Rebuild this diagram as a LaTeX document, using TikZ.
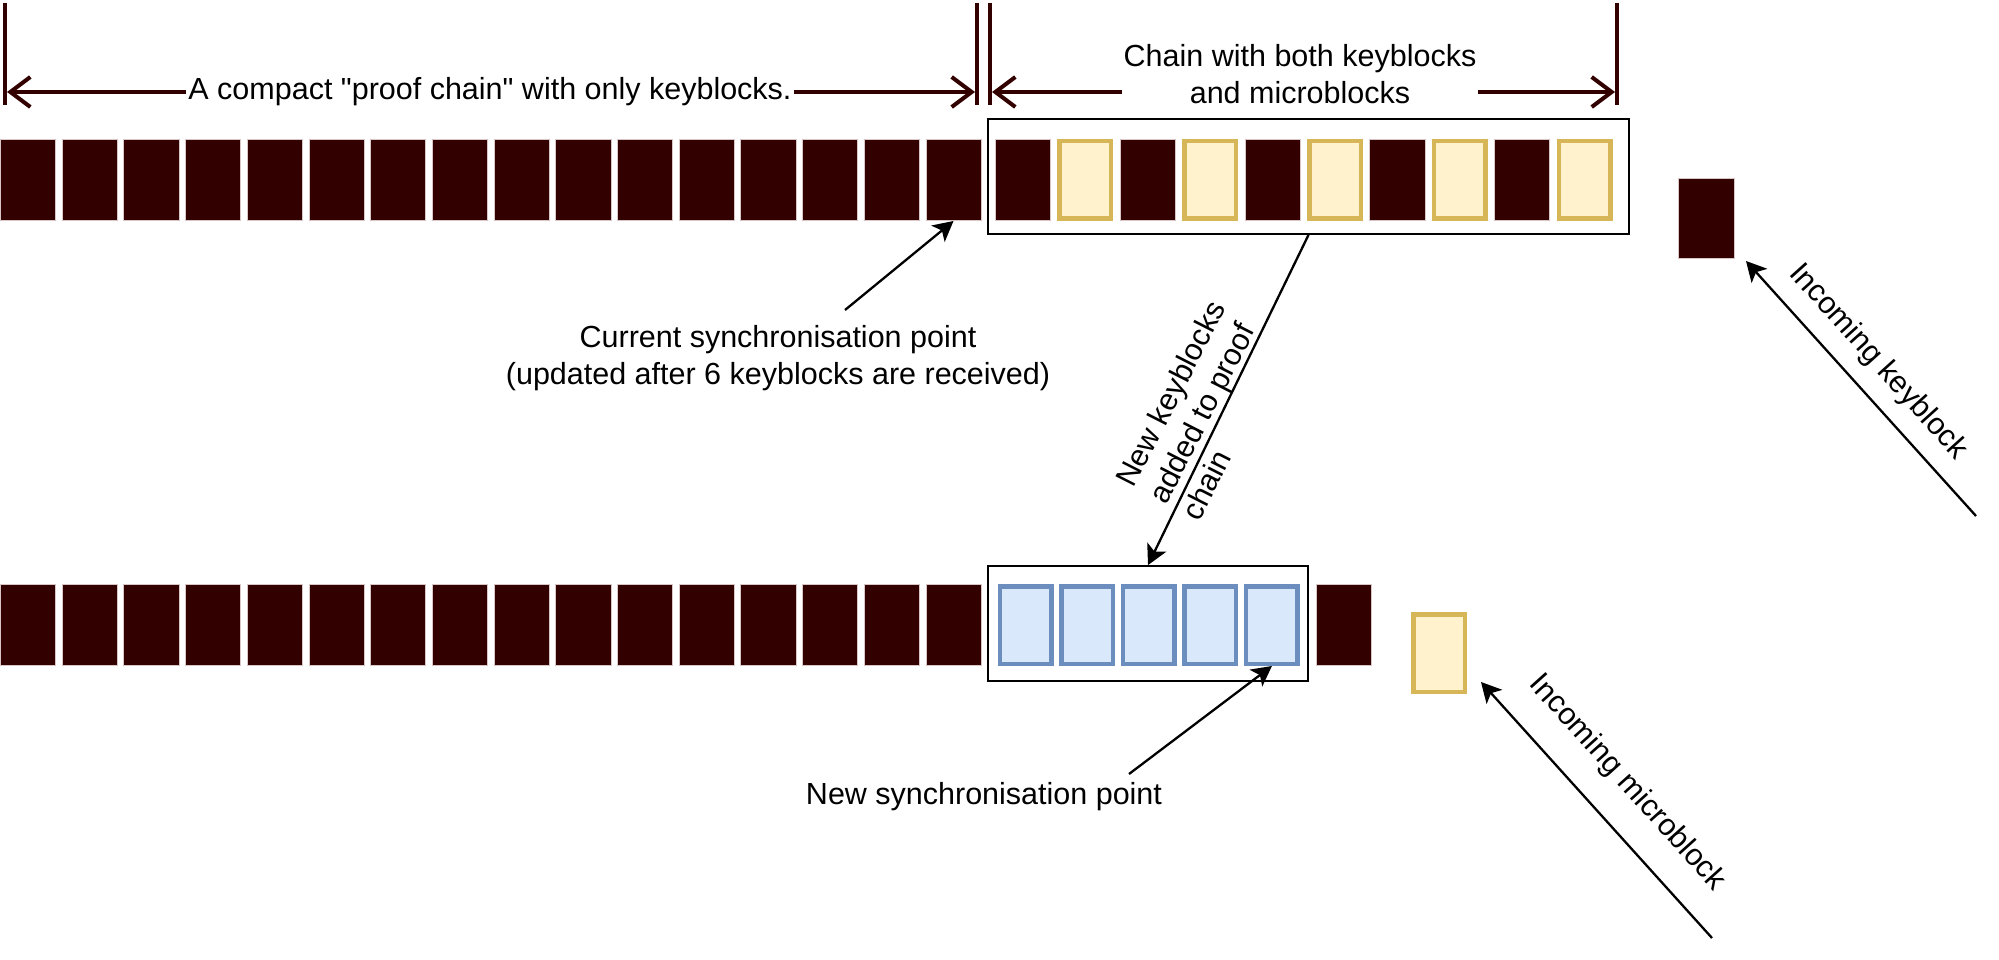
\documentclass[tikz,border=0pt]{standalone}
\usepackage{fontspec}
\setmainfont{Liberation Sans}[Ligatures=TeXOff]
\usetikzlibrary{arrows.meta,calc}
\definecolor{kbfill}{HTML}{330000}
\definecolor{kbedge}{HTML}{D8C6C6}
\definecolor{mbfill}{HTML}{FFF2CC}
\definecolor{mbdraw}{HTML}{D6B656}
\definecolor{nbfill}{HTML}{DAE8FC}
\definecolor{nbdraw}{HTML}{6C8EBF}
\begin{document}
\begin{tikzpicture}[x=1pt,y=-1pt,
  kb/.style={rectangle, fill=kbfill, draw=kbedge, line width=0.8pt, minimum width=55.2pt, minimum height=81.2pt, inner sep=0pt},
  mb/.style={rectangle, fill=mbfill, draw=mbdraw, line width=4.5pt, minimum width=51.5pt, minimum height=77.5pt, inner sep=0pt},
  nb/.style={rectangle, fill=nbfill, draw=nbdraw, line width=4.5pt, minimum width=51.5pt, minimum height=77.5pt, inner sep=0pt},
  groupbox/.style={rectangle, fill=white, draw=black, line width=2.3pt, inner sep=0pt},
  lbl/.style={font=\fontsize{30.5}{36.6}\selectfont, inner sep=2pt, text=black},
  dimtick/.style={draw=kbfill, line width=4pt},
  dimarrow/.style={draw=kbfill, line width=4pt, {Straight Barb[length=20pt,width=30pt]}-{Straight Barb[length=20pt,width=30pt]}},
  ann/.style={draw=black, line width=2.3pt, -{Stealth[length=20pt,width=21pt,inset=5pt]}}
]
\useasboundingbox (0,0) rectangle (1999,960);
\fill[white] (0,0) rectangle (1999,960);

% ---- top row: proof chain keyblocks
\foreach \i in {0,...,15} {
  \node[kb] (t\i) at ({28+\i*61.7},180) {};
}
% ---- top box with keyblocks and microblocks
\node[groupbox, minimum width=640.5pt, minimum height=114.5pt] (tbox) at (1308.5,176.5) {};
\foreach \i in {0,2,4,6,8} {
  \node[kb] (u\i) at ({1023+\i*62.4},180) {};
}
\foreach \i in {1,3,5,7,9} {
  \node[mb] (u\i) at ({1023+\i*62.4},180) {};
}
% incoming keyblock
\node[kb, minimum width=56.2pt, minimum height=80.2pt] (inkb) at (1706.5,218.5) {};

% ---- bottom row
\foreach \i in {0,...,15} {
  \node[kb] (b\i) at ({28+\i*61.7},625) {};
}
\node[groupbox, minimum width=319.5pt, minimum height=114.5pt] (bbox) at (1148,623.5) {};
\foreach \i in {0,...,4} {
  \node[nb] (n\i) at ({1025.5+\i*61.6},625) {};
}
\node[kb] (bend) at (1344,625) {};
\node[mb] (inmb) at (1439,653) {};

% ---- dimension lines
\coordinate (tkA1) at (5,3);    \coordinate (tkA2) at (5,105);
\coordinate (tkB1) at (977,3);  \coordinate (tkB2) at (977,105);
\coordinate (tkC1) at (990,3);  \coordinate (tkC2) at (990,105);
\coordinate (tkD1) at (1617,3); \coordinate (tkD2) at (1617,105);
\draw[dimtick] (tkA1) -- (tkA2);
\draw[dimtick] (tkB1) -- (tkB2);
\draw[dimtick] (tkC1) -- (tkC2);
\draw[dimtick] (tkD1) -- (tkD2);
\coordinate (dA) at (7,92);   \coordinate (dB) at (975,92);
\coordinate (dC) at (992,92); \coordinate (dD) at (1615,92);
\draw[dimarrow] (dA) -- (dB);
\draw[dimarrow] (dC) -- (dD);
\node[lbl, fill=white] (dimlbl1) at (490,92) {A compact "proof chain" with only keyblocks.};
\node[lbl, fill=white, align=center] (dimlbl2) at (1300,74) {Chain with both keyblocks\\and microblocks};

% ---- annotations
\node[lbl, align=center] (cur) at (778,358) {Current synchronisation point\\(updated after 6 keyblocks are received)};
\coordinate (curtail) at (845,310);
\draw[ann] (curtail) -- (t15.south);

\draw[ann] (tbox.south) -- (bbox.north);
\node[lbl, align=left, rotate=63] (nklbl) at (1203,410) {New keyblocks\\added to proof\\chain};

\node[lbl] (newsync) at (984,797) {New synchronisation point};
\coordinate (nstail) at (1129,774);
\draw[ann] (nstail) -- (n4.south);

\coordinate (iktail) at (1976,516);
\coordinate (iktip) at (1746,261);
\draw[ann] (iktail) -- (iktip);
\node[lbl, rotate=-48] (iklbl) at (1878,362) {Incoming keyblock};

\coordinate (imtail) at (1712,938);
\coordinate (imtip) at (1481,682);
\draw[ann] (imtail) -- (imtip);
\node[lbl, rotate=-48] (imlbl) at (1627,783) {Incoming microblock};
\end{tikzpicture}
\end{document}
